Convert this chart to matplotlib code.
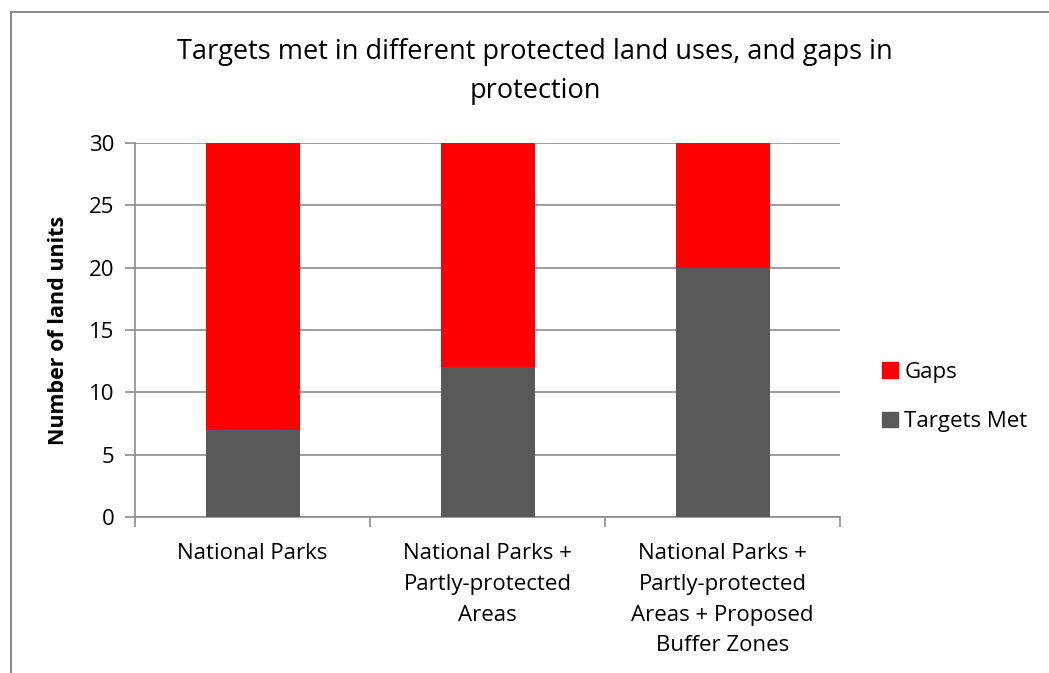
import matplotlib
matplotlib.use("Agg")
import matplotlib.pyplot as plt
from matplotlib.patches import Rectangle, Patch
import numpy as np

categories = ["National Parks", "National Parks +\nPartly-protected\nAreas",
              "National Parks +\nPartly-protected\nAreas + Proposed\nBuffer Zones"]
targets_met = [7, 12, 20]
gaps = [23, 18, 10]
yticks = [0, 5, 10, 15, 20, 25, 30]

plt.rcParams['font.family'] = ['Open Sans', 'DejaVu Sans']

W, H = 1049, 673
fig = plt.figure(figsize=(W/100, H/100), dpi=100)

def fx(px): return px / W
def fy(py): return 1 - py / H

# figure border
fig.patches.append(Rectangle((fx(10.5), -0.1), 1.2, fy(11.5) + 0.1, transform=fig.transFigure,
                             fill=False, edgecolor='#8c8c8c', linewidth=1.5, zorder=0))

ax = fig.add_axes([fx(135), fy(517), fx(840) - fx(135), fy(143) - fy(517)])
x = np.arange(len(categories))
grey = '#595959'
red = '#ff0000'
ax.bar(x, targets_met, width=0.4, color=grey, label='Targets Met', zorder=3)
ax.bar(x, gaps, width=0.4, bottom=targets_met, color=red, label='Gaps', zorder=3)

ax.set_xlim(-0.5, len(categories) - 0.5)
ax.set_ylim(0, 30)
ax.set_yticks(yticks)
ax.set_yticklabels([str(v) for v in yticks], fontsize=16)
ax.yaxis.grid(True, color='#8c8c8c', linewidth=1.2, zorder=0)
ax.set_axisbelow(True)
for s in ['top', 'right']:
    ax.spines[s].set_visible(False)
for s in ['left', 'bottom']:
    ax.spines[s].set_color('#8c8c8c')
    ax.spines[s].set_linewidth(1.2)
ax.tick_params(axis='y', length=7, width=1.2, color='#8c8c8c', pad=8)
# category boundary ticks on x
ax.set_xticks(np.arange(len(categories) + 1) - 0.5)
ax.set_xticklabels([])
ax.tick_params(axis='x', which='major', length=7, width=1.2, color='#8c8c8c')
ax.set_xticks(x, minor=True)
ax.set_xticklabels(categories, minor=True, fontsize=16, linespacing=1.6, va='top')
ax.tick_params(axis='x', which='minor', length=0, pad=19)

ax.set_ylabel('Number of land units', fontsize=15.5, fontweight='bold', labelpad=14)

fig.text(fx(535), fy(71.5), 'Targets met in different protected land uses, and gaps in\nprotection',
         ha='center', va='center', fontsize=19.5, linespacing=1.5)

handles = [Patch(color=red, label='Gaps'), Patch(color=grey, label='Targets Met')]
fig.legend(handles=handles, loc='center left', bbox_to_anchor=(fx(862), fy(397)),
           frameon=False, fontsize=16, handlelength=0.7, handleheight=0.7,
           handletextpad=0.3, labelspacing=1.3)

fig.savefig('out.png', dpi=100)
